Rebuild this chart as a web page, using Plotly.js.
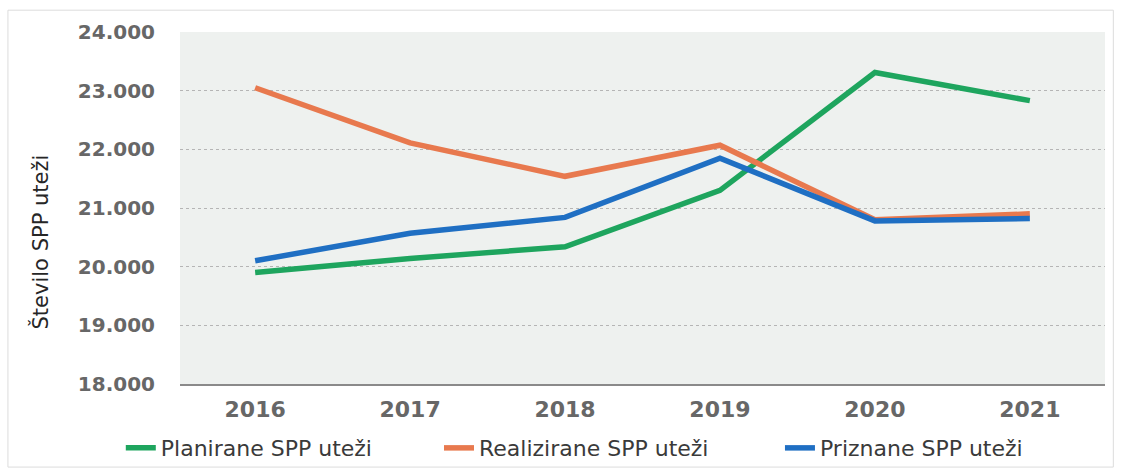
<!DOCTYPE html>
<html>
<head>
<meta charset="utf-8">
<script src="https://cdn.plot.ly/plotly-3.0.1.min.js"></script>
<style>html,body{margin:0;padding:0;background:#fff;}#chart{width:1121px;height:473px;}</style>
</head>
<body>
<div id="chart"></div>
<script>
const years = ['2016', '2017', '2018', '2019', '2020', '2021'];
const planirane = [19900, 20140, 20340, 21300, 23310, 22830];
const realizirane = [23050, 22110, 21540, 22070, 20800, 20900];
const priznane = [20100, 20570, 20840, 21850, 20780, 20820];
const seriesNames = ['Planirane SPP uteži', 'Realizirane SPP uteži', 'Priznane SPP uteži'];
const yTitle = 'Število SPP uteži';

const legendFont = {family: 'DejaVu Sans, Verdana, sans-serif', size: 22, color: '#3a3a3a'};
function mkLegend(x) {
  return {orientation: 'h', x: x, xanchor: 'left', y: -0.182, yanchor: 'middle',
          font: legendFont, bgcolor: 'rgba(0,0,0,0)', itemwidth: 30};
}

const traces = [
  {x: years, y: planirane, name: seriesNames[0], type: 'scatter', mode: 'lines',
   line: {color: '#1ea55e', width: 5.5}, legend: 'legend'},
  {x: years, y: realizirane, name: seriesNames[1], type: 'scatter', mode: 'lines',
   line: {color: '#e8794e', width: 5.5}, legend: 'legend2'},
  {x: years, y: priznane, name: seriesNames[2], type: 'scatter', mode: 'lines',
   line: {color: '#1f6fc3', width: 5.5}, legend: 'legend3'}
];

const layout = {
  width: 1121, height: 473,
  margin: {l: 180, r: 16, t: 32, b: 89, autoexpand: false},
  paper_bgcolor: '#ffffff',
  plot_bgcolor: '#eef1ef',
  separators: ',.',
  showlegend: true,
  legend: mkLegend(-0.064),
  legend2: mkLegend(0.28),
  legend3: mkLegend(0.6486),
  xaxis: {
    type: 'category',
    range: [-0.485, 5.485],
    showgrid: false,
    zeroline: false,
    showline: true, linecolor: '#8a8a8a', linewidth: 2,
    ticks: '',
    tickfont: {family: 'DejaVu Sans, Verdana, sans-serif', size: 22, color: '#676767', weight: 'bold'},
    ticklabelstandoff: 5,
    automargin: false,
    fixedrange: true
  },
  yaxis: {
    range: [18000, 24000],
    tickvals: [18000, 19000, 20000, 21000, 22000, 23000, 24000],
    tickformat: ',d',
    showgrid: true, gridcolor: '#b5b5b5', griddash: 'dot', gridwidth: 1,
    zeroline: false, showline: false,
    ticks: '',
    tickfont: {family: 'DejaVu Sans, Verdana, sans-serif', size: 20, color: '#676767', weight: 'bold'},
    ticklabelstandoff: 24,
    automargin: false,
    fixedrange: true
  },
  annotations: [
    {text: yTitle, xref: 'paper', yref: 'paper', x: -0.151, y: 0.403,
     xanchor: 'center', yanchor: 'middle', textangle: -90, showarrow: false,
     font: {family: 'DejaVu Sans, Verdana, sans-serif', size: 21, color: '#262626'}}
  ],
  shapes: [
    {type: 'rect', xref: 'paper', yref: 'paper', x0: -0.186, x1: 1.009, y0: -0.236, y1: 1.062,
     line: {color: '#dcdcdc', width: 1}, fillcolor: 'rgba(0,0,0,0)', layer: 'below'}
  ]
};

Plotly.newPlot('chart', traces, layout, {displayModeBar: false, staticPlot: true});
</script>
</body>
</html>
